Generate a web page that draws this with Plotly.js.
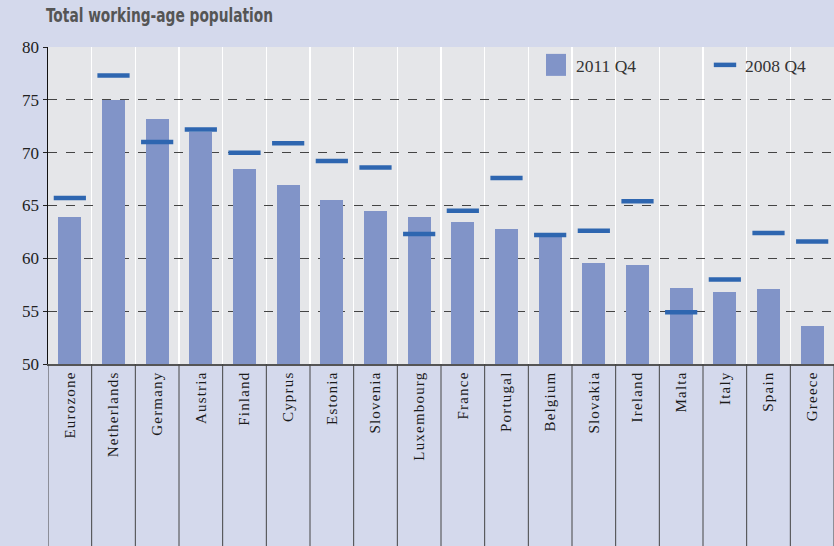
<!DOCTYPE html>
<html>
<head>
<meta charset="utf-8">
<script src="https://cdn.plot.ly/plotly-3.0.1.min.js"></script>
<style>
html,body{margin:0;padding:0;background:#d4d9ec;}
#chart{width:834px;height:546px;}
.xtick text{letter-spacing:1.2px;}
</style>
</head>
<body>
<div id="chart"></div>
<script>
const categories = ["Eurozone","Netherlands","Germany","Austria","Finland","Cyprus","Estonia","Slovenia","Luxembourg","France","Portugal","Belgium","Slovakia","Ireland","Malta","Italy","Spain","Greece"];
const q4_2011 = [63.9, 75.0, 73.2, 72.0, 68.5, 66.9, 65.5, 64.5, 63.9, 63.4, 62.8, 62.1, 59.6, 59.4, 57.2, 56.8, 57.1, 53.6];
const q4_2008 = [65.7, 77.3, 71.0, 72.2, 70.0, 70.9, 69.2, 68.6, 62.3, 64.5, 67.6, 62.2, 62.6, 65.4, 54.9, 58.0, 62.4, 61.6];
const yTicks = [50, 55, 60, 65, 70, 75, 80];

const W = 834, H = 546;
const M = {l: 48, r: 0, t: 47, b: 182, autoexpand: false};
const plotW = W - M.l - M.r, plotH = H - M.t - M.b;

const traces = [
  {
    type: 'bar', name: '2011 Q4', x: categories, y: q4_2011,
    width: 0.53, marker: {color: '#8194c8'}
  },
  {
    type: 'scatter', mode: 'markers', name: '2008 Q4', x: categories, y: q4_2008,
    marker: {symbol: 'line-ew', size: 23, color: '#2e66b0', line: {color: '#2e66b0', width: 4.5}}
  }
];

// separator lines below the axis, at category boundaries
const shapes = [];
for (let i = 0; i <= categories.length; i++) {
  shapes.push({type: 'line', xref: 'x', yref: 'paper', x0: i - 0.5, x1: i - 0.5,
    y0: 0, y1: -M.b / plotH, line: {color: '#444', width: 1}, layer: 'above'});
}

const layout = {
  width: W, height: H,
  margin: M,
  paper_bgcolor: '#d4d9ec',
  plot_bgcolor: '#e5e6e9',
  showlegend: true,
  title: {
    text: 'Total working-age population',
    font: {family: '"Liberation Sans Narrow", "DejaVu Sans Condensed", sans-serif', size: 19, color: '#555', weight: 'bold'},
    x: 46 / W, xanchor: 'left', xref: 'container',
    y: 1 - 15 / H, yanchor: 'middle', yref: 'container'
  },
  legend: {
    orientation: 'h', x: (536 - M.l) / plotW, xanchor: 'left', y: 1.0, yanchor: 'top',
    bgcolor: 'rgba(0,0,0,0)', entrywidth: 124, entrywidthmode: 'pixels',
    font: {family: '"Liberation Serif", serif', size: 17.5, color: '#333'},
    itemwidth: 30
  },
  xaxis: {
    type: 'category', range: [-0.5, categories.length - 0.5],
    tickson: 'boundaries', showgrid: true, gridcolor: '#ffffff', gridwidth: 1.5,
    ticks: '', tickangle: -90,
    tickfont: {family: '"Liberation Serif", serif', size: 15, color: '#1a1a1a'},
    showline: true, linecolor: '#555', linewidth: 1.5,
    fixedrange: true
  },
  yaxis: {
    range: [50, 80], tickvals: yTicks, ticktext: yTicks.map(String),
    showgrid: true, gridcolor: '#444', griddash: 'dash', gridwidth: 1,
    ticks: 'outside', ticklen: 4, tickcolor: '#222',
    tickfont: {family: '"Liberation Serif", serif', size: 17, color: '#222'},
    showline: true, linecolor: '#111', linewidth: 1.5, zeroline: false,
    fixedrange: true
  },
  bargap: 0,
  shapes: shapes
};

Plotly.newPlot('chart', traces, layout, {displayModeBar: false, staticPlot: true}).then(function (gd) {
  const t = gd.querySelector('.gtitle');
  if (t) {
    t.setAttribute('textLength', '227');
    t.setAttribute('lengthAdjust', 'spacingAndGlyphs');
  }
  const lt = gd.querySelectorAll('.legend .traces');
  if (lt.length) {
    const p = lt[0].querySelector('.legendpoints path');
    if (p) p.setAttribute('d', 'M10,11H-10V-11H10Z');
  }
});
</script>
</body>
</html>
